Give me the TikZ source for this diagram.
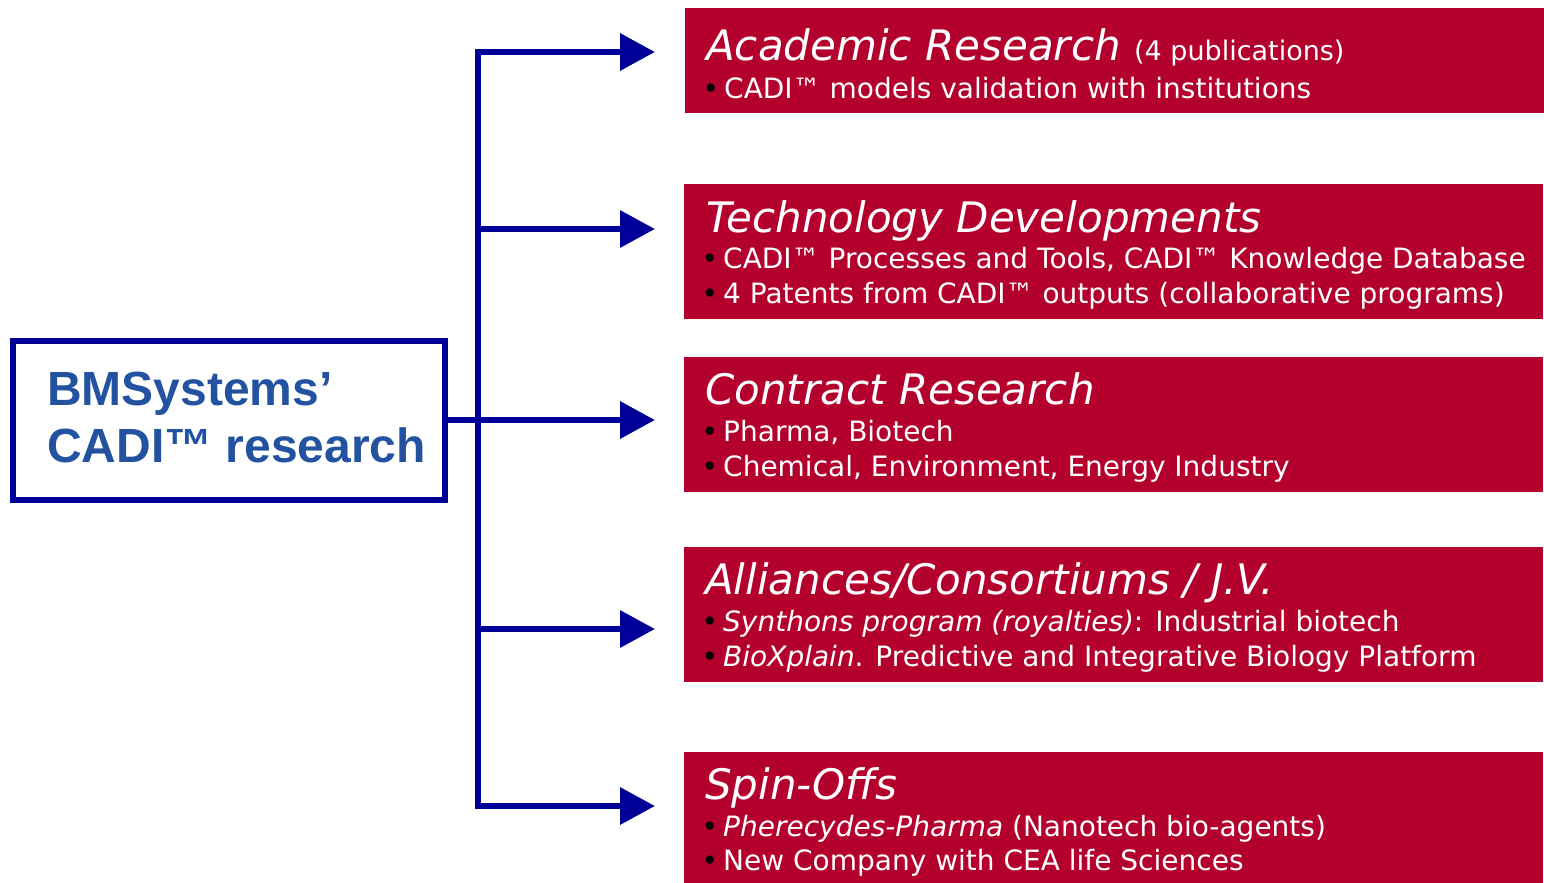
\documentclass[tikz,border=0pt]{standalone}
\usepackage{fontspec}
\setmainfont{DejaVu Sans}
\newfontfamily\titlefont{DejaVu Sans}
\newfontfamily\headfont{Liberation Sans}
\usetikzlibrary{arrows.meta}
\definecolor{navy}{RGB}{0,0,153}
\definecolor{cadiblue}{RGB}{35,83,160}
\definecolor{boxred}{RGB}{180,0,45}
\newcommand{\bul}{\makebox[0pt][r]{\color{black}•\hspace{5pt}}}

\begin{document}
\begin{tikzpicture}[x=1pt,y=-1pt,
  redbox/.style={fill=boxred, draw=none, anchor=north west, minimum width=859pt, inner sep=0pt},
  srcbox/.style={draw=navy, line width=6pt, fill=white, minimum width=432pt, minimum height=159pt, inner sep=0pt},
  srctext/.style={anchor=base west, inner sep=0pt, text=cadiblue, font=\headfont\bfseries\fontsize{48}{48}\selectfont},
  heading/.style={anchor=base west, inner sep=0pt, text=white, font=\titlefont\fontsize{42}{42}\selectfont\itshape},
  item/.style={anchor=base west, inner sep=0pt, text=white, font=\fontsize{28}{28}\selectfont},
  link/.style={draw=navy, line width=6.5pt},
  branch/.style={link, -{Triangle[length=35pt,width=36pt]}}
]
\useasboundingbox[fill=white] (0,0) rectangle (1544,883);

% source box
\node[srcbox] (src) at (229,420) {};
\node[srctext] (src1) at (47,405) {BMSystems’};
\node[srctext] (src2) at (47,462) {CADI™ research};

% target boxes
\node[redbox, minimum height=105pt] (b1) at (685,8) {};
\node[redbox, minimum height=135pt] (b2) at (684,184) {};
\node[redbox, minimum height=135pt] (b3) at (684,357) {};
\node[redbox, minimum height=135pt] (b4) at (684,547) {};
\node[redbox, minimum height=131pt] (b5) at (684,752) {};

% connectors
\coordinate (j1) at (478,52);
\coordinate (j2) at (478,229);
\coordinate (j3) at (478,420);
\coordinate (j4) at (478,629);
\coordinate (j5) at (478,806);
\coordinate (a1) at (655,52);
\coordinate (a2) at (655,229);
\coordinate (a3) at (655,420);
\coordinate (a4) at (655,629);
\coordinate (a5) at (655,806);
\draw[link, line cap=rect] (j1) -- (j5);
\draw[link] (src.east) -- (j3);
\draw[branch] (j1) -- (a1);
\draw[branch] (j2) -- (a2);
\draw[branch] (j3) -- (a3);
\draw[branch] (j4) -- (a4);
\draw[branch] (j5) -- (a5);

% texts
\node[heading] (h1) at (706,60) {Academic Research \upshape\normalfont\fontsize{27}{27}\selectfont(4 publications)};
\node[item] (t11) at (724,98) {\bul CADI™ models validation with institutions};

\node[heading] (h2) at (706,232) {Technology Developments};
\node[item] (t21) at (723,268) {\bul CADI™ Processes and Tools, CADI™ Knowledge Database};
\node[item] (t22) at (723,303) {\bul 4 Patents from CADI™ outputs (collaborative programs)};

\node[heading] (h3) at (705,404) {Contract Research};
\node[item] (t31) at (723,441) {\bul Pharma, Biotech};
\node[item] (t32) at (723,476) {\bul Chemical, Environment, Energy Industry};

\node[heading] (h4) at (705,594) {Alliances/Consortiums / J.V.};
\node[item] (t41) at (723,631) {\bul \textit{Synthons program (royalties)}: Industrial biotech};
\node[item] (t42) at (723,666) {\bul \textit{BioXplain}. Predictive and Integrative Biology Platform};

\node[heading] (h5) at (705,799) {Spin-Offs};
\node[item] (t51) at (723,836) {\bul \textit{Pherecydes-Pharma} (Nanotech bio-agents)};
\node[item] (t52) at (723,870) {\bul New Company with CEA life Sciences};
\end{tikzpicture}
\end{document}
